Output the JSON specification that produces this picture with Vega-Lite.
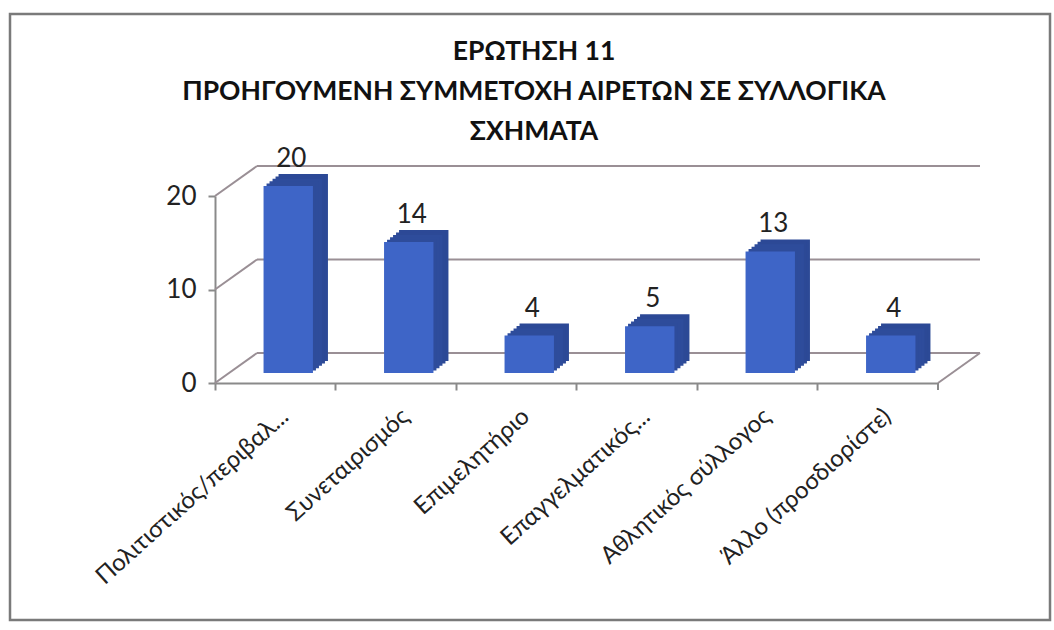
{
  "$schema": "https://vega.github.io/schema/vega-lite/v6.json",
  "autosize": {"type": "none"},
  "padding": {"left": 10, "top": 14, "right": 4, "bottom": 10},
  "width": 1040,
  "height": 606,
  "background": "#ffffff",
  "config": {
    "font": "Lato",
    "view": {"stroke": "#7a7a7a", "strokeWidth": 2.5}
  },
  "title": {
    "text": ["ΕΡΩΤΗΣΗ  11", "ΠΡΟΗΓΟΥΜΕΝΗ ΣΥΜΜΕΤΟΧΗ ΑΙΡΕΤΩΝ ΣΕ ΣΥΛΛΟΓΙΚΑ", "ΣΧΗΜΑΤΑ"],
    "font": "Lato",
    "fontSize": 26.5,
    "fontWeight": "bold",
    "lineHeight": 40,
    "color": "#111111",
    "anchor": "middle",
    "dx": 4,
    "offset": -131
  },
  "data": {
    "values": [
      {"cat": "Πολιτιστικός/περιβαλ...", "v": 20},
      {"cat": "Συνεταιρισμός", "v": 14},
      {"cat": "Επιμελητήριο", "v": 4},
      {"cat": "Επαγγελματικός...", "v": 5},
      {"cat": "Αθλητικός σύλλογος", "v": 13},
      {"cat": "Άλλο (προσδιορίστε)", "v": 4}
    ]
  },
  "layer": [
    {
      "data": {"values": [{"g": 0}, {"g": 10}, {"g": 20}]},
      "mark": {"type": "rule", "color": "#9a8f95", "strokeWidth": 2, "xOffset": 42, "x2Offset": 42, "yOffset": -30, "y2Offset": -30},
      "encoding": {
        "x": {"datum": "Πολιτιστικός/περιβαλ...", "type": "nominal", "bandPosition": 0},
        "x2": {"datum": "Άλλο (προσδιορίστε)", "bandPosition": 1},
        "y": {"field": "g", "type": "quantitative"}
      }
    },
    {
      "data": {"values": [{"g": 0}, {"g": 10}, {"g": 20}]},
      "mark": {"type": "rule", "color": "#9a8f95", "strokeWidth": 2, "x2Offset": 42, "y2Offset": -30},
      "encoding": {
        "x": {"datum": "Πολιτιστικός/περιβαλ...", "type": "nominal", "bandPosition": 0},
        "x2": {"datum": "Πολιτιστικός/περιβαλ...", "bandPosition": 0},
        "y": {"field": "g", "type": "quantitative"},
        "y2": {"field": "g"}
      }
    },
    {
      "data": {"values": [{"g": 0}]},
      "mark": {"type": "rule", "color": "#9a8f95", "strokeWidth": 2, "x2Offset": 42, "y2Offset": -30},
      "encoding": {
        "x": {"datum": "Άλλο (προσδιορίστε)", "type": "nominal", "bandPosition": 1},
        "x2": {"datum": "Άλλο (προσδιορίστε)", "bandPosition": 1},
        "y": {"field": "g", "type": "quantitative"},
        "y2": {"field": "g"}
      }
    },
    {
      "data": {"values": [{"g": 0}]},
      "mark": {"type": "rule", "color": "#8a8a8a", "strokeWidth": 2, "y2Offset": 7},
      "encoding": {
        "x": {"datum": "Άλλο (προσδιορίστε)", "type": "nominal", "bandPosition": 1},
        "y": {"field": "g", "type": "quantitative"},
        "y2": {"field": "g"}
      }
    },
    {
      "mark": {"type": "bar", "color": "#2c4996", "width": {"band": 0.41}, "xOffset": 28, "yOffset": -22, "y2Offset": -22},
      "encoding": {
        "x": {
          "field": "cat",
          "type": "nominal",
          "scale": {
            "domain": ["Πολιτιστικός/περιβαλ...", "Συνεταιρισμός", "Επιμελητήριο", "Επαγγελματικός...", "Αθλητικός σύλλογος", "Άλλο (προσδιορίστε)"],
            "range": [205, 928],
            "paddingInner": 0,
            "paddingOuter": 0
          },
          "axis": {
            "title": null,
            "offset": -237,
            "bandPosition": 0,
            "labelAngle": -42,
            "labelAlign": "right",
            "labelBaseline": "middle",
            "labelOffset": 10,
            "labelPadding": 23,
            "labelFont": "Lato",
            "labelFontSize": 24,
            "labelColor": "#222222",
            "labelLimit": 400,
            "tickSize": 7,
            "tickColor": "#8a8a8a",
            "domainColor": "#8a8a8a",
            "domainWidth": 2,
            "tickWidth": 2,
            "grid": false
          }
        },
        "y": {"field": "v", "type": "quantitative", "scale": {"domain": [0, 20], "range": [369, 182], "nice": false},
          "axis": {
            "title": null,
            "offset": -205,
            "values": [0, 10, 20],
            "labelFont": "Lato",
            "labelFontSize": 26,
            "labelColor": "#222222",
            "labelPadding": 12,
            "tickSize": 7,
            "tickWidth": 2,
            "tickColor": "#8a8a8a",
            "domainColor": "#8a8a8a",
            "domainWidth": 2,
            "grid": false
          }
        }
      }
    },
    {
      "mark": {"type": "bar", "color": "#2c4996", "width": {"band": 0.41}, "xOffset": 25, "yOffset": -19.6, "y2Offset": -19.6},
      "encoding": {"x": {"field": "cat", "type": "nominal"}, "y": {"field": "v", "type": "quantitative"}}
    },
    {
      "mark": {"type": "bar", "color": "#2e4c9b", "width": {"band": 0.41}, "xOffset": 22, "yOffset": -17.2, "y2Offset": -17.2},
      "encoding": {"x": {"field": "cat", "type": "nominal"}, "y": {"field": "v", "type": "quantitative"}}
    },
    {
      "mark": {"type": "bar", "color": "#2e4c9b", "width": {"band": 0.41}, "xOffset": 19, "yOffset": -14.8, "y2Offset": -14.8},
      "encoding": {"x": {"field": "cat", "type": "nominal"}, "y": {"field": "v", "type": "quantitative"}}
    },
    {
      "mark": {"type": "bar", "color": "#2e4c9b", "width": {"band": 0.41}, "xOffset": 16, "yOffset": -12.4, "y2Offset": -12.4},
      "encoding": {"x": {"field": "cat", "type": "nominal"}, "y": {"field": "v", "type": "quantitative"}}
    },
    {
      "mark": {"type": "bar", "color": "#3e65c7", "width": {"band": 0.41}, "xOffset": 13, "yOffset": -10, "y2Offset": -10},
      "encoding": {"x": {"field": "cat", "type": "nominal"}, "y": {"field": "v", "type": "quantitative"}}
    },
    {
      "mark": {"type": "text", "fontSize": 26, "font": "Lato", "color": "#222222", "baseline": "alphabetic", "xOffset": 16, "yOffset": -29},
      "encoding": {
        "x": {"field": "cat", "type": "nominal"},
        "y": {"field": "v", "type": "quantitative"},
        "text": {"field": "v", "type": "quantitative"}
      }
    }
  ]
}
